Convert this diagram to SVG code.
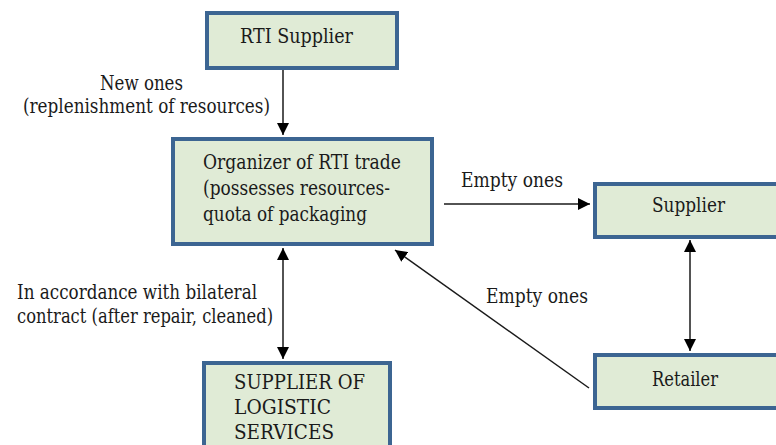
<svg xmlns="http://www.w3.org/2000/svg" width="776" height="445" viewBox="0 0 776 445">
<style>
.box{fill:#e0ebd6;stroke:#3c6592;stroke-width:4;}
.c{stroke:#1a1a1a;stroke-width:1.5;fill:none;}
</style>
<defs>
<marker id="ah" viewBox="0 0 10 10" refX="10" refY="5" markerWidth="12" markerHeight="12" markerUnits="userSpaceOnUse" orient="auto-start-reverse">
<path d="M0,0 L10,5 L0,10 z" fill="#000"/>
</marker>
</defs>
<rect width="776" height="445" fill="#fff"/>
<g font-family="'DejaVu Serif', serif" font-size="20" fill="#1a1a1a">
<g id="connectors">
<line class="c" x1="283" y1="68" x2="283" y2="135" marker-end="url(#ah)"/>
<line class="c" x1="283" y1="248" x2="283" y2="359" marker-start="url(#ah)" marker-end="url(#ah)"/>
<line class="c" x1="444" y1="204" x2="590" y2="204" marker-end="url(#ah)"/>
<line class="c" x1="690" y1="240" x2="690" y2="351" marker-start="url(#ah)" marker-end="url(#ah)"/>
<line class="c" x1="589" y1="388" x2="395" y2="250" marker-end="url(#ah)"/>
<text x="100" y="90" textLength="83" lengthAdjust="spacingAndGlyphs">New ones</text>
<text x="23" y="113" textLength="247" lengthAdjust="spacingAndGlyphs">(replenishment of resources)</text>
<text x="461" y="187" textLength="102" lengthAdjust="spacingAndGlyphs">Empty ones</text>
<text x="486" y="303" textLength="102" lengthAdjust="spacingAndGlyphs">Empty ones</text>
<text x="17" y="299" textLength="240" lengthAdjust="spacingAndGlyphs">In accordance with bilateral</text>
<text x="17" y="323" textLength="256" lengthAdjust="spacingAndGlyphs">contract (after repair, cleaned)</text>
</g>
<g id="rti-supplier">
<rect class="box" x="207" y="13" width="190" height="55"/>
<text x="240" y="43" textLength="113" lengthAdjust="spacingAndGlyphs">RTI Supplier</text>
</g>
<g id="organizer">
<rect class="box" x="173" y="139" width="259" height="105"/>
<text x="203" y="169" textLength="198" lengthAdjust="spacingAndGlyphs">Organizer of RTI trade</text>
<text x="203" y="195" textLength="187" lengthAdjust="spacingAndGlyphs">(possesses resources-</text>
<text x="203" y="221" textLength="164" lengthAdjust="spacingAndGlyphs">quota of packaging</text>
</g>
<g id="supplier">
<rect class="box" x="595" y="184" width="190" height="53"/>
<text x="652" y="212" textLength="73" lengthAdjust="spacingAndGlyphs">Supplier</text>
</g>
<g id="logistic">
<rect class="box" x="204" y="363" width="186" height="90"/>
<text x="234" y="389" textLength="131" lengthAdjust="spacingAndGlyphs">SUPPLIER OF</text>
<text x="234" y="414" textLength="97" lengthAdjust="spacingAndGlyphs">LOGISTIC</text>
<text x="234" y="439" textLength="100" lengthAdjust="spacingAndGlyphs">SERVICES</text>
</g>
<g id="retailer">
<rect class="box" x="595" y="355" width="190" height="53"/>
<text x="652" y="386" textLength="66" lengthAdjust="spacingAndGlyphs">Retailer</text>
</g>
</g>
</svg>
